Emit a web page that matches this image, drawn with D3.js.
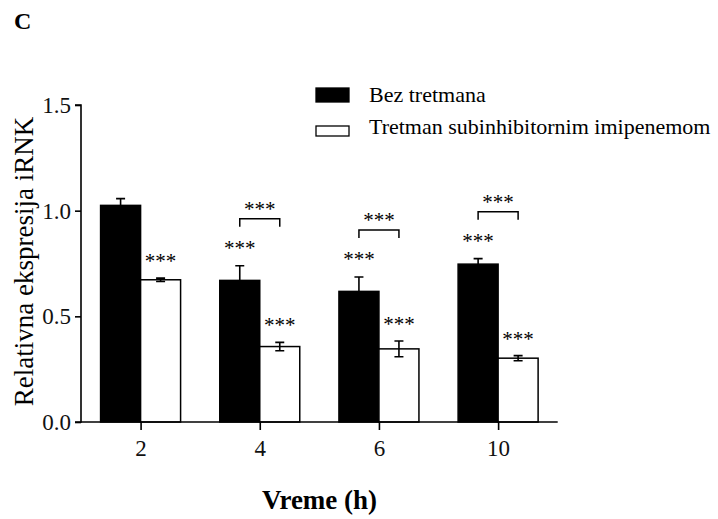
<!DOCTYPE html>
<html>
<head>
<meta charset="utf-8">
<script src="https://cdn.jsdelivr.net/npm/d3@7"></script>
<style>
  body { margin: 0; background: #fff; }
  svg { font-family: "Liberation Serif", "Times New Roman", serif; }
</style>
</head>
<body>
<div id="chart"></div>
<script>
// data
const categories = ["2", "4", "6", "10"];
const bezTretmana = [1.025, 0.670, 0.618, 0.747];
const bezErr = [0.032, 0.069, 0.068, 0.026];
const tretman = [0.673, 0.357, 0.346, 0.302];
const tretErr = [0.008, 0.020, 0.037, 0.012];
const bezSig = ["", "***", "***", "***"];
const tretSig = ["***", "***", "***", "***"];
const pairSig = ["", "***", "***", "***"];
const yTicks = [0, 0.5, 1.0, 1.5];
const seriesNames = ["Bez tretmana", "Tretman subinhibitornim imipenemom"];

const width = 718, height = 519;
const svg = d3.select("#chart").append("svg")
    .attr("width", width)
    .attr("height", height);

const x = d3.scalePoint()
    .domain(categories)
    .range([81, 557.7])
    .padding(0.5);

const y = d3.scaleLinear()
    .domain([0, 1.5])
    .range([422, 105]);

const barW = 40;

const groups = categories.map((c, i) => ({
    cat: c,
    bez: bezTretmana[i], bezE: bezErr[i],
    tret: tretman[i], tretE: tretErr[i],
    bezS: bezSig[i], tretS: tretSig[i], pairS: pairSig[i]
}));

const g = svg.append("g");

// bars
g.selectAll("rect.bez")
    .data(groups)
    .enter().append("rect")
    .attr("class", "bez")
    .attr("x", d => x(d.cat) - barW)
    .attr("y", d => y(d.bez))
    .attr("width", barW)
    .attr("height", d => y(0) - y(d.bez))
    .attr("fill", "#000")
    .attr("stroke", "#000")
    .attr("stroke-width", 1.5);

g.selectAll("rect.tret")
    .data(groups)
    .enter().append("rect")
    .attr("class", "tret")
    .attr("x", d => x(d.cat))
    .attr("y", d => y(d.tret))
    .attr("width", barW)
    .attr("height", d => y(0) - y(d.tret))
    .attr("fill", "#fff")
    .attr("stroke", "#000")
    .attr("stroke-width", 1.5);

// error bars
function errorBar(cx, v, e) {
    const cap = 4.5;
    const p = d3.path();
    p.moveTo(cx, y(v - e)); p.lineTo(cx, y(v + e));
    p.moveTo(cx - cap, y(v + e)); p.lineTo(cx + cap, y(v + e));
    p.moveTo(cx - cap, y(v - e)); p.lineTo(cx + cap, y(v - e));
    return p.toString();
}

groups.forEach(d => {
    g.append("path")
        .attr("d", errorBar(x(d.cat) - barW / 2, d.bez, d.bezE))
        .attr("stroke", "#000").attr("stroke-width", 1.6).attr("fill", "none");
    g.append("path")
        .attr("d", errorBar(x(d.cat) + barW / 2, d.tret, d.tretE))
        .attr("stroke", "#000").attr("stroke-width", 1.6).attr("fill", "none");
});

// significance stars
const starSize = 21;
function stars(cx, yMid, s) {
    g.append("text")
        .attr("x", cx)
        .attr("y", yMid + 11)
        .attr("text-anchor", "middle")
        .attr("font-size", starSize)
        .text(s);
}

groups.forEach(d => {
    const bx = x(d.cat) - barW / 2;
    const tx = x(d.cat) + barW / 2;
    const bezTop = y(d.bez + d.bezE);
    const tretTop = y(d.tret + d.tretE);
    if (d.tretS) stars(tx, tretTop - 21, d.tretS);
    if (d.bezS) stars(bx, bezTop - 22, d.bezS);
    if (d.pairS) {
        const by = bezTop - 47;
        g.append("path")
            .attr("d", `M${bx},${by + 8}V${by}H${tx}V${by + 8}`)
            .attr("stroke", "#000").attr("stroke-width", 1.5).attr("fill", "none");
        stars((bx + tx) / 2, by - 14, d.pairS);
    }
});

// axes
const yAxis = svg.append("g")
    .attr("transform", `translate(${81},0)`)
    .call(d3.axisLeft(y).tickValues(yTicks).tickFormat(d3.format(".1f")).tickSize(6).tickPadding(4));

const xAxis = svg.append("g")
    .attr("transform", `translate(0,${422})`)
    .call(d3.axisBottom(x).tickSize(8).tickPadding(10));

[yAxis, xAxis].forEach(a => {
    a.attr("font-family", null);
    a.select(".domain").attr("stroke", "#000").attr("stroke-width", 1.6);
    a.selectAll(".tick line").attr("stroke", "#000").attr("stroke-width", 1.6);
    a.selectAll(".tick text")
        .attr("font-family", "Liberation Serif, Times New Roman, serif")
        .attr("font-size", 23)
        .attr("fill", "#111");
});
yAxis.select(".domain").attr("d", `M-6,${y(1.5)}H0V${y(0)}H-6`);
xAxis.select(".domain").attr("d", `M81,0H557.7`);

// axis titles
svg.append("text")
    .attr("transform", `translate(33,${(110 + 413) / 2}) rotate(-90)`)
    .attr("text-anchor", "middle")
    .attr("font-size", 27)
    .text("Relativna ekspresija iRNK");

svg.append("text")
    .attr("x", 319.5)
    .attr("y", 509)
    .attr("text-anchor", "middle")
    .attr("font-size", 27)
    .attr("font-weight", "bold")
    .text("Vreme (h)");

svg.append("text")
    .attr("x", 14)
    .attr("y", 29)
    .attr("font-size", 24)
    .attr("font-weight", "bold")
    .text("C");

// legend
const legend = svg.append("g").attr("transform", "translate(316,88)");
seriesNames.forEach((name, i) => {
    const row = legend.append("g").attr("transform", `translate(0,${i * 35})`);
    row.append("rect")
        .attr("x", 0).attr("y", i === 0 ? 0 : 3)
        .attr("width", 33).attr("height", i === 0 ? 14 : 10)
        .attr("fill", i === 0 ? "#000" : "#fff")
        .attr("stroke", "#000").attr("stroke-width", 1.3);
    row.append("text")
        .attr("x", 53)
        .attr("y", i === 0 ? 14 : 11)
        .attr("font-size", 22)
        .text(name);
});
</script>
</body>
</html>
